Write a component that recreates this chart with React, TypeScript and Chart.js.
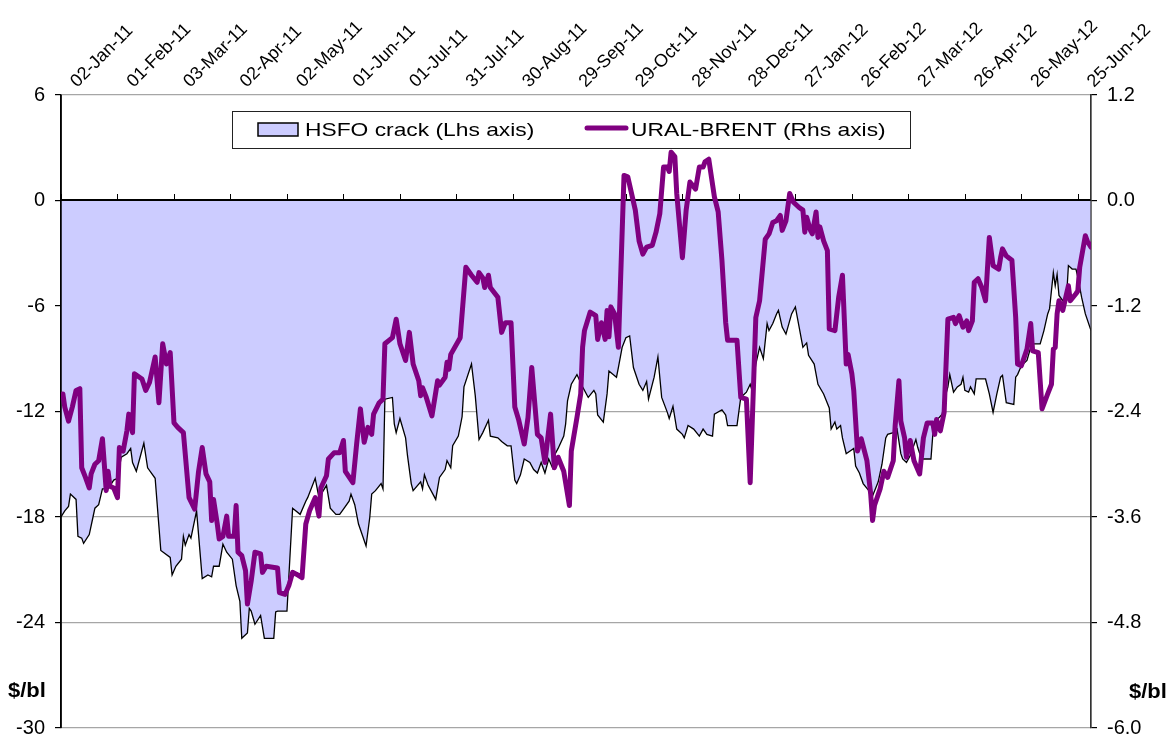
import React, { useEffect, useRef } from "react";
import { Chart, registerables } from "chart.js";

Chart.register(...registerables);

// ---------- data ----------
const tickLabels = [
  "02-Jan-11", "01-Feb-11", "03-Mar-11", "02-Apr-11", "02-May-11", "01-Jun-11",
  "01-Jul-11", "31-Jul-11", "30-Aug-11", "29-Sep-11", "29-Oct-11", "28-Nov-11",
  "28-Dec-11", "27-Jan-12", "26-Feb-12", "27-Mar-12", "26-Apr-12", "26-May-12", "25-Jun-12",
];
const tickStepDays = 30; // days between date ticks, counted from 02-Jan-11
const lastDay = 547;
const leftTicks = [-30, -24, -18, -12, -6, 0, 6];
const rightTicks = [-6, -4.8, -3.6, -2.4, -1.2, 0, 1.2];
const legendLabels = ["HSFO crack (Lhs axis)", "URAL-BRENT (Rhs axis)"];
const unitLabel = "$/bl";

// [day since 02-Jan-11, $/bl]
const hsfoPoints: [number, number][] = [
  [0,-18.0],[2,-17.65],[4,-17.4],[5,-16.7],[8,-17.0],[9,-19.1],[11,-19.2],[12,-19.5],[15,-19.0],[17,-18.0],
  [18,-17.5],[20,-17.3],[22,-16.4],[25,-16.4],[28,-15.9],[30,-15.8],[32,-14.6],[35,-14.4],[37,-14.1],[38,-14.9],
  [40,-15.4],[42,-14.6],[44,-13.8],[46,-15.2],[50,-15.8],[53,-19.9],[58,-20.3],[59,-21.3],[61,-20.8],[64,-20.4],
  [65,-19.1],[66,-19.6],[68,-19.0],[69,-19.2],[72,-17.65],[75,-21.5],[78,-21.3],[80,-21.4],[81,-20.8],[84,-20.8],
  [86,-19.55],[88,-20.0],[91,-20.4],[93,-21.9],[95,-22.8],[96,-24.9],[99,-24.6],[100,-23.2],[101,-23.35],[103,-24.1],
  [106,-23.6],[108,-24.9],[113,-24.9],[114,-23.4],[115,-23.35],[120,-23.35],[123,-17.5],[127,-17.85],[130,-17.1],[131,-16.9],
  [135,-15.8],[137,-16.9],[141,-16.2],[143,-17.5],[146,-17.85],[148,-17.85],[150,-17.55],[153,-17.1],[154,-16.7],[156,-17.3],
  [158,-18.4],[162,-19.65],[164,-18.0],[165,-16.7],[167,-16.5],[170,-16.1],[171,-16.4],[172,-11.3],[176,-11.2],[177,-12.7],
  [178,-13.2],[180,-12.4],[183,-13.5],[184,-14.5],[186,-16.1],[187,-16.5],[191,-16.0],[192,-16.4],[193,-15.6],[195,-16.2],
  [199,-17.0],[201,-15.75],[204,-15.3],[205,-14.8],[207,-15.2],[208,-13.95],[211,-13.4],[213,-12.3],[214,-10.6],[218,-9.3],
  [220,-11.1],[222,-13.6],[224,-13.2],[227,-12.5],[228,-13.4],[232,-13.5],[234,-13.7],[237,-13.95],[239,-13.95],[241,-15.9],
  [242,-16.1],[244,-15.6],[246,-14.7],[249,-14.9],[251,-15.3],[253,-15.5],[255,-14.9],[257,-15.5],[259,-14.7],[261,-15.2],
  [262,-14.5],[264,-14.1],[267,-13.4],[268,-12.7],[269,-11.4],[271,-10.45],[274,-9.9],[277,-10.6],[280,-11.2],[283,-10.8],
  [284,-11.0],[285,-12.2],[288,-12.6],[290,-11.0],[291,-9.7],[295,-10.05],[296,-9.5],[298,-8.35],[300,-7.8],[302,-7.7],
  [304,-9.5],[307,-10.45],[309,-10.8],[311,-10.3],[312,-11.3],[315,-10.05],[317,-8.9],[319,-11.2],[322,-12.05],[323,-12.4],
  [325,-11.7],[327,-13.0],[330,-13.3],[331,-13.5],[333,-12.8],[336,-13.0],[339,-13.4],[341,-13.0],[343,-13.3],[346,-13.4],
  [347,-12.15],[351,-11.9],[353,-12.2],[354,-12.8],[359,-12.8],[360,-12.0],[361,-11.2],[364,-10.9],[366,-10.45],[367,-10.8],
  [369,-9.3],[371,-8.35],[373,-9.0],[375,-7.0],[376,-7.4],[378,-7.0],[380,-6.45],[381,-6.25],[383,-7.2],[385,-7.6],
  [388,-6.45],[390,-6.05],[392,-7.2],[394,-8.35],[396,-8.1],[397,-8.8],[400,-9.3],[402,-10.45],[405,-11.0],[408,-11.8],
  [409,-13.0],[411,-12.6],[412,-13.0],[414,-12.8],[415,-13.5],[417,-14.4],[421,-14.1],[422,-15.1],[424,-15.5],[426,-16.1],
  [429,-16.5],[431,-16.8],[434,-16.0],[436,-15.0],[438,-13.5],[439,-13.3],[442,-13.2],[444,-13.0],[446,-14.4],[447,-14.7],
  [449,-14.9],[451,-14.5],[454,-13.6],[455,-14.05],[457,-14.7],[462,-14.7],[463,-13.3],[465,-12.5],[468,-12.15],[469,-11.4],
  [471,-10.6],[472,-9.9],[474,-10.9],[476,-10.6],[478,-10.45],[479,-10.05],[480,-10.8],[482,-10.9],[483,-10.6],[485,-11.0],
  [486,-10.15],[491,-10.15],[493,-11.0],[495,-12.05],[497,-11.0],[499,-10.05],[500,-9.95],[502,-11.5],[506,-11.6],[507,-10.05],
  [508,-9.9],[510,-9.4],[513,-9.1],[515,-8.35],[516,-8.15],[520,-8.15],[522,-7.4],[524,-6.45],[525,-6.15],[527,-4.1],
  [528,-4.85],[529,-4.2],[530,-5.4],[532,-5.7],[534,-5.5],[535,-3.7],[537,-3.9],[539,-3.9],[540,-4.35],[542,-5.5],
  [544,-6.45],[547,-7.4],
];

// [day since 02-Jan-11, $/bl]
const uralPoints: [number, number][] = [
  [1,-2.20],[2,-2.35],[4,-2.51],[6,-2.35],[8,-2.16],[10,-2.14],[11,-3.04],[13,-3.15],[15,-3.27],[16,-3.11],
  [18,-3.0],[20,-2.96],[22,-2.71],[23,-3.0],[24,-3.30],[25,-3.08],[26,-3.25],[28,-3.27],[30,-3.38],[31,-2.81],
  [33,-2.85],[35,-2.62],[36,-2.43],[38,-2.64],[39,-1.97],[43,-2.03],[45,-2.16],[47,-2.07],[50,-1.78],[52,-2.30],
  [54,-1.63],[56,-1.86],[58,-1.73],[60,-2.53],[62,-2.58],[65,-2.64],[68,-3.38],[71,-3.51],[73,-3.09],[75,-2.81],
  [77,-3.11],[79,-3.2],[80,-3.64],[81,-3.40],[83,-3.68],[84,-3.85],[86,-3.82],[88,-3.59],[89,-3.82],[92,-3.82],
  [93,-3.47],[94,-4.0],[96,-4.04],[98,-4.21],[99,-4.59],[101,-4.33],[103,-4.0],[106,-4.02],[107,-4.23],[109,-4.16],
  [115,-4.18],[116,-4.46],[119,-4.48],[121,-4.38],[123,-4.23],[125,-4.25],[128,-4.29],[130,-3.68],[132,-3.53],[135,-3.38],
  [137,-3.59],[138,-3.27],[141,-3.13],[142,-2.94],[145,-2.87],[148,-2.87],[150,-2.73],[151,-3.08],[155,-3.21],[157,-2.77],
  [159,-2.37],[161,-2.75],[163,-2.58],[165,-2.66],[166,-2.43],[169,-2.30],[171,-2.26],[172,-1.63],[176,-1.56],[178,-1.35],
  [180,-1.63],[183,-1.82],[185,-1.50],[187,-1.86],[190,-2.05],[191,-2.22],[192,-2.13],[194,-2.24],[197,-2.45],[200,-2.05],
  [201,-2.10],[204,-2.01],[205,-1.84],[206,-1.92],[207,-1.75],[212,-1.56],[215,-0.76],[218,-0.85],[221,-0.93],[222,-0.82],
  [224,-0.88],[225,-0.99],[227,-0.85],[228,-0.99],[232,-1.10],[234,-1.50],[236,-1.39],[239,-1.39],[241,-2.35],[243,-2.49],
  [246,-2.77],[248,-2.47],[250,-1.90],[253,-2.66],[255,-2.70],[257,-2.98],[260,-2.43],[262,-3.04],[264,-2.92],[267,-3.08],
  [270,-3.47],[271,-2.85],[274,-2.47],[276,-2.2],[277,-1.67],[278,-1.48],[281,-1.27],[284,-1.31],[285,-1.58],[286,-1.48],
  [287,-1.39],[289,-1.58],[290,-1.25],[291,-1.55],[292,-1.21],[294,-1.29],[296,-1.67],[299,0.285],[301,0.27],[305,-0.11],
  [307,-0.46],[309,-0.61],[311,-0.53],[314,-0.51],[316,-0.36],[318,-0.15],[320,0.38],[322,0.38],[323,0.33],[324,0.55],
  [326,0.50],[327,0.08],[330,-0.65],[332,-0.11],[334,0.21],[337,0.13],[339,0.38],[341,0.38],[342,0.44],[344,0.47],
  [347,0.04],[349,-0.13],[351,-0.68],[353,-1.39],[354,-1.59],[359,-1.59],[361,-2.24],[364,-2.26],[366,-3.21],[369,-1.33],
  [371,-1.14],[374,-0.44],[376,-0.38],[378,-0.25],[380,-0.23],[382,-0.17],[383,-0.34],[385,-0.23],[387,0.08],[389,-0.02],
  [390,-0.04],[392,-0.08],[394,-0.11],[395,-0.36],[396,-0.19],[398,-0.34],[399,-0.38],[401,-0.13],[402,-0.42],[403,-0.30],
  [405,-0.46],[407,-0.57],[408,-1.46],[411,-1.48],[413,-1.10],[415,-0.85],[417,-1.86],[418,-1.75],[420,-1.97],[421,-2.16],
  [423,-2.85],[425,-2.71],[428,-2.96],[430,-3.34],[431,-3.64],[432,-3.47],[435,-3.28],[437,-3.08],[439,-3.15],[442,-2.96],
  [443,-2.56],[445,-2.05],[446,-2.51],[448,-2.70],[449,-2.92],[451,-2.73],[452,-2.85],[453,-2.96],[456,-3.11],[458,-2.70],
  [460,-2.53],[463,-2.53],[464,-2.66],[465,-2.49],[467,-2.62],[469,-2.41],[471,-1.35],[474,-1.33],[475,-1.40],[477,-1.31],
  [479,-1.44],[481,-1.37],[482,-1.48],[484,-1.37],[485,-0.93],[487,-0.89],[489,-0.99],[491,-1.14],[493,-0.42],[495,-0.74],
  [498,-0.78],[499,-0.65],[500,-0.55],[502,-0.63],[505,-0.68],[507,-1.33],[508,-1.86],[510,-1.88],[513,-1.69],[515,-1.40],
  [516,-1.71],[519,-1.73],[521,-2.37],[524,-2.20],[526,-2.09],[527,-1.69],[528,-1.67],[529,-1.29],[530,-1.14],[532,-1.25],
  [535,-0.97],[536,-1.14],[539,-1.06],[540,-1.03],[541,-0.76],[544,-0.40],[545,-0.46],[547,-0.53],
];

// ---------- styling ----------
const FONT = '"Liberation Sans", Arial, Helvetica, sans-serif';
const FILL = "#CCCCFF";
const PURPLE = "#800080";
const GRID = "#a6a6a6";

function drawStretched(ctx: CanvasRenderingContext2D, text: string, x: number, y: number, sx: number) {
  ctx.save();
  ctx.translate(x, y);
  ctx.scale(sx, 1);
  ctx.fillText(text, 0, 0);
  ctx.restore();
}

const overlayPlugin = {
  id: "overlay",
  afterDatasetDraw(chart: any, args: any) {
    if (args.index !== 0) return;
    const { ctx, chartArea } = chart;
    const xs = chart.scales.x;
    const ys = chart.scales.y;
    const y0 = Math.round(ys.getPixelForValue(0));
    ctx.save();
    ctx.strokeStyle = "#000";
    // zero axis line
    ctx.lineWidth = 2;
    ctx.beginPath();
    ctx.moveTo(chartArea.left, y0);
    ctx.lineTo(chartArea.right, y0);
    ctx.stroke();
    // date tick marks on zero line
    ctx.lineWidth = 1;
    tickLabels.forEach((_, i) => {
      const px = Math.round(xs.getPixelForValue(i * tickStepDays)) + 0.5;
      ctx.beginPath();
      ctx.moveTo(px, y0 - 6);
      ctx.lineTo(px, y0);
      ctx.stroke();
    });
    // value axes lines
    ctx.lineWidth = 1.5;
    ctx.beginPath();
    ctx.moveTo(chartArea.left, chartArea.top);
    ctx.lineTo(chartArea.left, chartArea.bottom);
    ctx.stroke();
    ctx.strokeStyle = "#333";
    ctx.lineWidth = 1.2;
    ctx.beginPath();
    ctx.moveTo(chartArea.right, chartArea.top);
    ctx.lineTo(chartArea.right, chartArea.bottom);
    ctx.stroke();
    ctx.restore();
  },
  afterDraw(chart: any) {
    const { ctx } = chart;
    ctx.save();
    // legend box
    ctx.fillStyle = "#fff";
    ctx.fillRect(232, 111, 679, 37);
    ctx.strokeStyle = "#222";
    ctx.lineWidth = 1;
    ctx.strokeRect(232.5, 111.5, 678, 37);
    ctx.fillStyle = FILL;
    ctx.fillRect(258, 123, 40, 13);
    ctx.strokeStyle = "#000";
    ctx.lineWidth = 1.5;
    ctx.strokeRect(258, 123, 40, 13);
    ctx.fillStyle = "#000";
    ctx.font = `19px ${FONT}`;
    ctx.textBaseline = "middle";
    ctx.textAlign = "left";
    drawStretched(ctx, legendLabels[0], 305, 131, 1.2);
    ctx.strokeStyle = PURPLE;
    ctx.lineWidth = 5;
    ctx.lineCap = "round";
    ctx.beginPath();
    ctx.moveTo(587, 128);
    ctx.lineTo(626, 128);
    ctx.stroke();
    drawStretched(ctx, legendLabels[1], 631, 131, 1.2);
    // unit labels
    ctx.font = `bold 20px ${FONT}`;
    drawStretched(ctx, unitLabel, 8, 691, 1.1);
    drawStretched(ctx, unitLabel, 1129, 692, 1.1);
    ctx.restore();
  },
};

function zeroPad(scale: any) {
  scale.paddingTop = 0;
  scale.paddingBottom = 0;
  scale.paddingLeft = 0;
  scale.paddingRight = 0;
}

export default function App() {
  const canvasRef = useRef<HTMLCanvasElement | null>(null);

  useEffect(() => {
    if (!canvasRef.current) return;
    const chart = new Chart(canvasRef.current, {
      type: "line",
      data: {
        datasets: [
          {
            label: legendLabels[0],
            data: hsfoPoints.map(([d, v]) => ({ x: d, y: v })),
            yAxisID: "y",
            borderColor: "#000",
            borderWidth: 1.3,
            backgroundColor: FILL,
            fill: "origin",
            pointRadius: 0,
            tension: 0,
            order: 2,
          },
          {
            label: legendLabels[1],
            data: uralPoints.map(([d, v]) => ({ x: d, y: v })),
            yAxisID: "y1",
            borderColor: PURPLE,
            borderWidth: 5,
            borderJoinStyle: "round",
            borderCapStyle: "round",
            fill: false,
            pointRadius: 0,
            tension: 0,
            order: 1,
          },
        ],
      },
      options: {
        animation: false,
        responsive: false,
        devicePixelRatio: 1,
        layout: { padding: { left: 0, right: 0, top: 0, bottom: 12 } },
        plugins: { legend: { display: false }, tooltip: { enabled: false } },
        scales: {
          x: {
            type: "linear",
            position: "top",
            min: 0,
            max: lastDay,
            grid: { display: false, drawTicks: false },
            border: { display: false },
            afterBuildTicks: (scale: any) => {
              scale.ticks = tickLabels.map((_, i) => ({ value: i * tickStepDays }));
            },
            afterFit: (scale: any) => {
              scale.height = 95;
              zeroPad(scale);
            },
            ticks: {
              autoSkip: false,
              minRotation: 45,
              maxRotation: 45,
              padding: 3,
              labelOffset: 28,
              color: "#000",
              font: { family: FONT, size: 18 },
              callback: (_v: any, i: number) => tickLabels[i] ?? "",
            },
          },
          y: {
            type: "linear",
            position: "left",
            min: leftTicks[0],
            max: leftTicks[leftTicks.length - 1],
            afterBuildTicks: (scale: any) => {
              scale.ticks = leftTicks.map((v) => ({ value: v }));
            },
            afterFit: (scale: any) => {
              scale.width = 61;
              zeroPad(scale);
            },
            grid: {
              color: (c: any) => (c.tick && c.tick.value === 0 ? "rgba(0,0,0,0)" : GRID),
              lineWidth: 1.2,
              tickLength: 6,
              tickColor: "#000",
            },
            border: { color: "#000", width: 1.5 },
            ticks: {
              padding: 10,
              color: "#000",
              font: { family: FONT, size: 20 },
              callback: (v: any) => String(v),
            },
          },
          y1: {
            type: "linear",
            position: "right",
            min: rightTicks[0],
            max: rightTicks[rightTicks.length - 1],
            afterBuildTicks: (scale: any) => {
              scale.ticks = rightTicks.map((v) => ({ value: v }));
            },
            afterFit: (scale: any) => {
              scale.width = 80;
              zeroPad(scale);
            },
            grid: { drawOnChartArea: false, tickLength: 6, tickColor: "#000", lineWidth: 1.2 },
            border: { color: "#333", width: 1.2 },
            ticks: {
              padding: 10,
              color: "#000",
              font: { family: FONT, size: 20 },
              callback: (v: any) => Number(v).toFixed(1),
            },
          },
        },
      },
      plugins: [overlayPlugin],
    } as any);
    return () => chart.destroy();
  }, []);

  return (
    <div style={{ position: "absolute", left: 0, top: 0, width: 1171, height: 740, background: "#fff" }}>
      <canvas ref={canvasRef} width={1171} height={740} style={{ width: 1171, height: 740, display: "block" }} />
    </div>
  );
}
